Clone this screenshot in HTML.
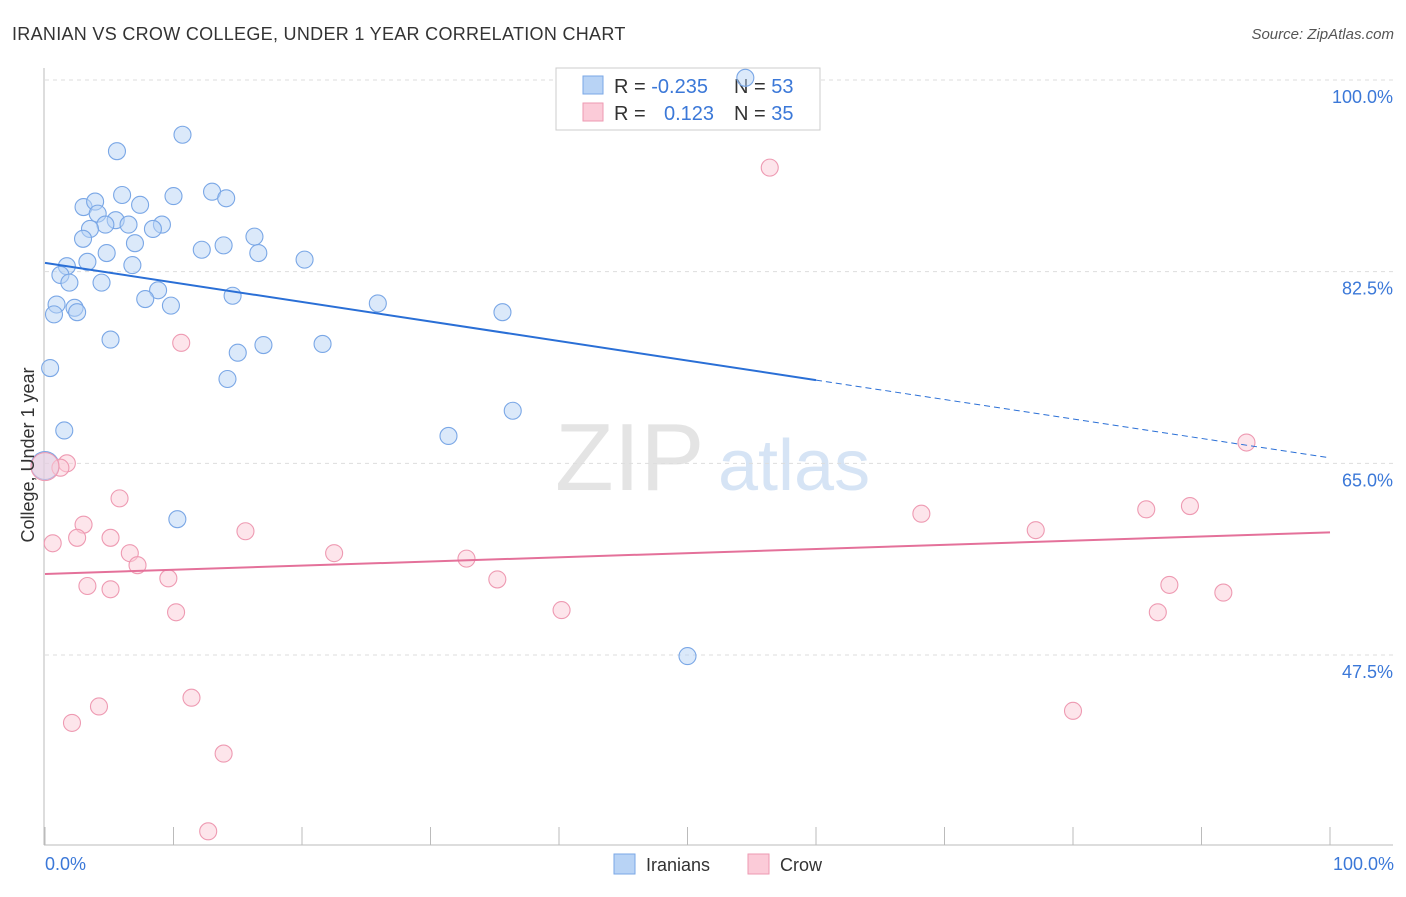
<!DOCTYPE html>
<html><head><meta charset="utf-8"><style>
body{margin:0;background:#fff;font-family:"Liberation Sans",sans-serif}
svg text{font-family:"Liberation Sans",sans-serif}
</style></head><body>
<svg id="chart" width="1406" height="892" viewBox="0 0 1406 892">
<text x="12" y="40" font-size="18" fill="#333" letter-spacing="0.3">IRANIAN VS CROW COLLEGE, UNDER 1 YEAR CORRELATION CHART</text>
<text x="1394" y="39" font-size="15" fill="#555" text-anchor="end" font-style="italic">Source: ZipAtlas.com</text>
<text x="555" y="490" font-size="96" fill="#e4e4e4" font-family="Liberation Serif">ZIP</text>
<text x="718" y="490" font-size="72" fill="#d6e4f5">atlas</text>
<g id="grid"></g>
<g id="axes"></g>
<g>
<rect x="556" y="68" width="264" height="62" fill="#fff" stroke="#ccc"/>
<rect x="583" y="76" width="20" height="18" fill="#b8d3f5" stroke="#7aa7e6"/>
<rect x="583" y="103" width="20" height="18" fill="#fbcbd8" stroke="#ee9ab2"/>
<text x="614" y="93" font-size="20" fill="#333">R = <tspan fill="#3b78d8">-0.235</tspan></text>
<text x="734" y="93" font-size="20" fill="#333">N = <tspan fill="#3b78d8">53</tspan></text>
<text x="614" y="120" font-size="20" fill="#333">R = <tspan fill="#3b78d8" x="664">0.123</tspan></text>
<text x="734" y="120" font-size="20" fill="#333">N = <tspan fill="#3b78d8">35</tspan></text>
</g>
<g id="marks"></g>
<text transform="translate(34,455) rotate(-90)" font-size="18" fill="#333" text-anchor="middle">College, Under 1 year</text>
<text x="45" y="870" font-size="18" fill="#3b78d8">0.0%</text>
<text x="1394" y="870" font-size="18" fill="#3b78d8" text-anchor="end">100.0%</text>
<g>
<rect x="614" y="854" width="21" height="20" fill="#b8d3f5" stroke="#7aa7e6"/>
<text x="646" y="871" font-size="18" fill="#333">Iranians</text>
<rect x="748" y="854" width="21" height="20" fill="#fbcbd8" stroke="#ee9ab2"/>
<text x="780" y="871" font-size="18" fill="#333">Crow</text>
</g>
</svg>
<script>
const yTicks=[100,82.5,65,47.5];
const xTicks=[0,10,20,30,40,50,60,70,80,90,100];
const iranX=[5.6,10.7,6.0,13.0,10.0,14.1,7.4,3.0,3.9,4.1,5.5,6.5,4.7,3.5,9.1,8.4,2.96,7.0,16.3,13.9,12.2,16.6,4.8,3.3,20.2,1.7,6.8,1.2,1.9,4.4,8.8,7.8,14.6,25.9,0.9,9.8,2.3,2.5,0.7,35.6,5.1,21.6,17.0,15.0,0.4,14.2,1.5,31.4,36.4,10.3,50.0,54.5,0.0];
const iranY=[93.5,95.0,89.5,89.8,89.4,89.2,88.6,88.4,88.9,87.8,87.2,86.8,86.8,86.4,86.8,86.4,85.5,85.1,85.7,84.9,84.5,84.2,84.2,83.4,83.6,83.0,83.1,82.2,81.5,81.5,80.8,80.0,80.3,79.6,79.5,79.4,79.2,78.8,78.6,78.8,76.3,75.9,75.8,75.1,73.7,72.7,68.0,67.5,69.8,59.9,47.4,100.2,64.8];
const crowX=[56.4,10.6,93.5,1.7,1.2,5.8,3.0,15.6,0.6,2.5,5.1,6.6,22.5,7.2,32.8,68.2,85.7,89.1,77.1,9.6,35.2,3.3,5.1,87.5,91.7,10.2,40.2,86.6,11.4,4.2,2.1,80.0,13.9,12.7,0.0];
const crowY=[92.0,76.0,66.9,65.0,64.6,61.8,59.4,58.8,57.7,58.2,58.2,56.8,56.8,55.7,56.3,60.4,60.8,61.1,58.9,54.5,54.4,53.8,53.5,53.9,53.2,51.4,51.6,51.4,43.6,42.8,41.3,42.4,38.5,31.4,64.7];
const iranTrend=[[0,83.3],[60,72.6],[100,65.5]];
const crowTrend=[[0,54.9],[100,58.7]];
const L=45,R=1330,Y100=80,Y475=655;
const xs=v=>L+(R-L)*v/100;
const ys=v=>Y100+(100-v)*(Y475-Y100)/52.5;
const NS="http://www.w3.org/2000/svg";
function mk(p,t,a){const e=document.createElementNS(NS,t);for(const k in a)e.setAttribute(k,a[k]);p.appendChild(e);return e;}
const grid=document.getElementById('grid'),axes=document.getElementById('axes'),marks=document.getElementById('marks');
yTicks.forEach(v=>{
 const g=mk(grid,'line',{x1:L,x2:1393,y1:ys(v),y2:ys(v),stroke:'#ddd','stroke-dasharray':'4 4'});
 
 
 const t=mk(grid,'text',{x:1393,y:ys(v)+23,'font-size':18,fill:'#3b78d8','text-anchor':'end'});
 t.textContent=v.toFixed(1)+'%';
 
 
});
const ya=mk(axes,'line',{x1:44,x2:44,y1:68,y2:845,stroke:'#bbb'});


const xa=mk(axes,'line',{x1:44,x2:1393,y1:845,y2:845,stroke:'#bbb'});


xTicks.forEach(v=>{
 const t=mk(axes,'line',{x1:xs(v),x2:xs(v),y1:827,y2:845,stroke:'#bbb'});
 
 
});
function pts(X,Y,fill,stroke,name){
 X.forEach((x,i)=>{
  const big=(x===0);
  const c=mk(marks,'circle',{cx:xs(x),cy:ys(Y[i]),r:big?14:8.5,fill:fill,'fill-opacity':0.5,stroke:stroke,'stroke-width':1.1});
  
  
 });
}
pts(iranX,iranY,'#b8d3f5','#7aa7e6','iranian-point');
pts(crowX,crowY,'#fbcbd8','#ee9ab2','crow-point');
const b1=mk(marks,'line',{x1:xs(iranTrend[0][0]),y1:ys(iranTrend[0][1]),x2:xs(iranTrend[1][0]),y2:ys(iranTrend[1][1]),stroke:'#2a6fd6','stroke-width':2});


const b2=mk(marks,'line',{x1:xs(iranTrend[1][0]),y1:ys(iranTrend[1][1]),x2:xs(iranTrend[2][0]),y2:ys(iranTrend[2][1]),stroke:'#2a6fd6','stroke-width':1,'stroke-dasharray':'6 4'});


const p1=mk(marks,'line',{x1:xs(crowTrend[0][0]),y1:ys(crowTrend[0][1]),x2:xs(crowTrend[1][0]),y2:ys(crowTrend[1][1]),stroke:'#e4719a','stroke-width':2});


</script>
</body></html>
